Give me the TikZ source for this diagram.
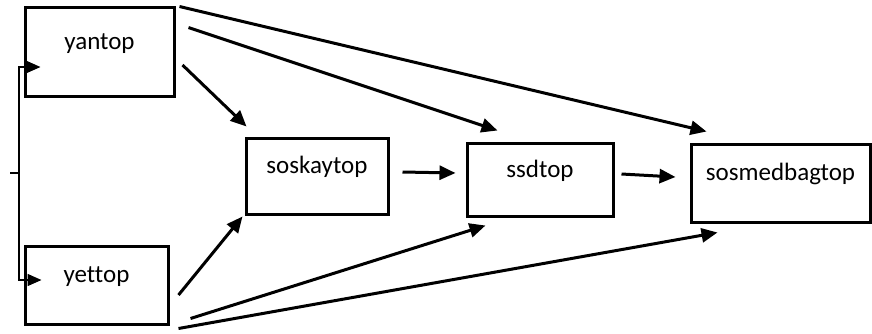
\documentclass[tikz,border=0pt]{standalone}
\usepackage{fontspec}
\setmainfont[Ligatures=NoCommon]{Carlito}
\usetikzlibrary{arrows.meta}

\begin{document}
\begin{tikzpicture}[x=1pt, y=-1pt,
  box/.style={draw, line width=3pt, inner sep=0pt, text height=16pt, text depth=20.5pt,
    font=\fontsize{25}{30}\selectfont},
  link/.style={line width=3pt, -{Triangle[length=16pt, width=14pt]}},
  feed/.style={line width=1.5pt, -{Triangle[length=14pt, width=12pt]}}]
\useasboundingbox (0,0) rectangle (872,333);

% boxes
\node[box, minimum width=149pt, minimum height=89pt] (yantop) at (99.5,51.5) {yantop};
\node[box, minimum width=143pt, minimum height=78pt] (yettop) at (96.5,285) {yettop};
\node[box, minimum width=142pt, minimum height=76pt] (soskaytop) at (317,176) {soskaytop};
\node[box, minimum width=146pt, minimum height=73pt] (ssdtop) at (540,179.5) {ssdtop};
\node[box, minimum width=179pt, minimum height=78pt] (sosmedbagtop) at (780.5,183) {sosmedbagtop};

% left bracket
\coordinate (brk) at (19,173);
\coordinate (tick) at (10,173);
\draw[line width=1.5pt] (tick) -- (brk);
\draw[feed] (brk) |- ([shift={(17,15.5)}]yantop.west);
\draw[feed] (brk) |- ([shift={(18,-5)}]yettop.west);

% arrows from yantop
\draw[link] ([shift={(4,1)}]yantop.north east) -- ([shift={(17,-11)}]sosmedbagtop.north west);
\draw[link] ([shift={(13,22)}]yantop.north east) -- ([shift={(32,-11)}]ssdtop.north west);
\draw[link] ([shift={(7,13.5)}]yantop.east) -- ([shift={(2,-10)}]soskaytop.north west);

% middle chain
\draw[link] ([shift={(13,-4)}]soskaytop.east) -- ([shift={(-10,-6.5)}]ssdtop.west);
\draw[link] ([shift={(7,-5.5)}]ssdtop.east) -- ([shift={(-14,-6)}]sosmedbagtop.west);

% arrows from yettop
\draw[link] ([shift={(9,10)}]yettop.east) -- ([shift={(-2,1)}]soskaytop.south west);
\draw[link] ([shift={(21,-7)}]yettop.south east) -- ([shift={(20,8)}]ssdtop.south west);
\draw[link] ([shift={(9,3)}]yettop.south east) -- ([shift={(28,9)}]sosmedbagtop.south west);

\end{tikzpicture}
\end{document}
